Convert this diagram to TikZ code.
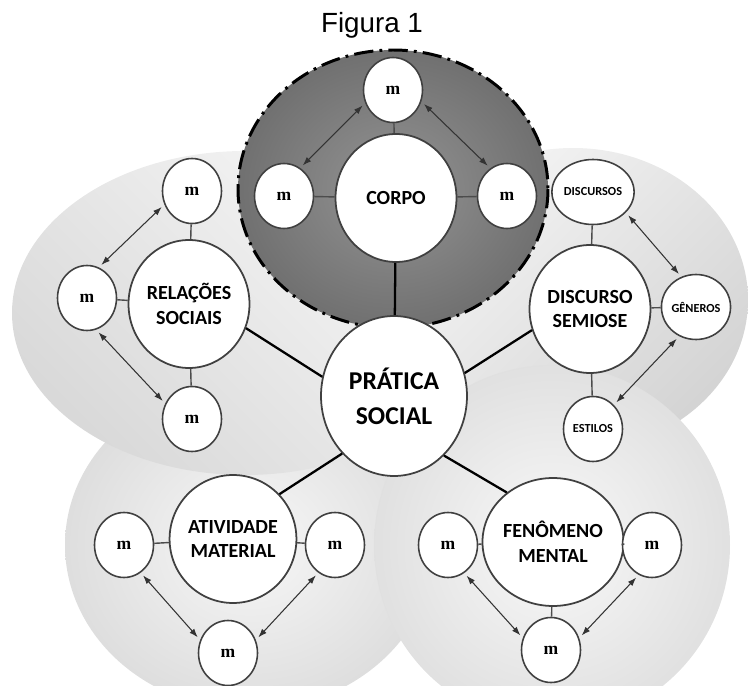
\documentclass[tikz,border=0pt]{standalone}
\usepackage{fontspec}
\usetikzlibrary{shapes.geometric,arrows.meta}
\newfontfamily\titlefont{Liberation Sans}
\newfontfamily\boxfont{Carlito}
\newfontfamily\mfont{Liberation Serif}
\definecolor{corpoin}{gray}{0.58}
\definecolor{corpoout}{gray}{0.44}
\begin{document}
\begin{tikzpicture}[x=0.02cm,y=-0.02cm,
  mainnode/.style={ellipse,draw=black!75,line width=1pt,fill=white,inner sep=0pt,
    minimum width=2.42cm,minimum height=2.56cm,align=center,
    font=\boxfont\bfseries\fontsize{11.4}{14.2}\selectfont},
  mnode/.style={ellipse,draw=black!75,line width=0.9pt,fill=white,inner sep=0pt,
    minimum width=1.18cm,minimum height=1.3cm,
    font=\mfont\bfseries\fontsize{10}{10}\selectfont},
  wordnode/.style={mnode,font=\boxfont\bfseries\fontsize{7}{8}\selectfont},
  link/.style={draw=black!70,line width=0.8pt},
  spoke/.style={draw=black,line width=1.3pt},
  dbl/.style={{Latex[length=5pt,width=3.5pt]}-{Latex[length=5pt,width=3.5pt]},
    draw=black!80,line width=0.6pt,shorten <=2pt,shorten >=2pt}]
\useasboundingbox (0,0) rectangle (748,686);
\clip (0,0) rectangle (748,686);
% grey fields behind the groups
\shade[inner color=gray!6,outer color=gray!26] (250,545) ellipse [x radius=185,y radius=165];
\shade[top color=gray!6,bottom color=gray!30,shading angle=-45] (245,313) ellipse [x radius=233,y radius=162];
\shade[top color=gray!8,bottom color=gray!34,shading angle=45] (573,300) ellipse [x radius=175,y radius=152];
\shade[inner color=gray!5,outer color=gray!24] (552,545) ellipse [x radius=178,y radius=180];
\shade[inner color=corpoin,outer color=corpoout] (393,189) ellipse [x radius=155,y radius=139];
\draw[line width=1.7pt,dash pattern=on 11pt off 3.5pt on 1.6pt off 3.5pt] (393,189) ellipse [x radius=155,y radius=139];

\node[anchor=base] (title) at (372,33) {\titlefont\fontsize{15.8}{18}\selectfont Figura 1};

\node[mainnode,minimum width=2.92cm,minimum height=3.2cm,
  font=\boxfont\bfseries\fontsize{14.6}{19.8}\selectfont] (pratica) at (394,396) {PRÁTICA\\SOCIAL};

\node[mainnode] (corpo) at (396,198) {CORPO};
\node[mnode] (ct) at (393,90) {m};
\node[mnode] (cl) at (284,196) {m};
\node[mnode] (cr) at (507,196) {m};

\node[mainnode] (rel) at (189,304) {RELAÇÕES\\SOCIAIS};
\node[mnode] (rt) at (192,191) {m};
\node[mnode] (rl) at (87,298) {m};
\node[mnode] (rb) at (192,419) {m};

\node[mainnode] (dis) at (590,309) {DISCURSO\\SEMIOSE};
\node[wordnode] (dsc) at (593,192) {DISCURSOS};
\node[wordnode] (dgn) at (696,307) {GÊNEROS};
\node[wordnode] (dst) at (593,429) {ESTILOS};

\node[mainnode] (ativ) at (233,539) {ATIVIDADE\\MATERIAL};
\node[mnode] (al) at (124,545) {m};
\node[mnode] (ar) at (335,545) {m};
\node[mnode] (ab) at (228,653) {m};

\node[mainnode] (fen) at (553,542) {FENÔMENO\\MENTAL};
\node[mnode] (fl) at (448,545) {m};
\node[mnode] (fr) at (652,545) {m};
\node[mnode] (fb) at (551,650) {m};

% spokes from the centre
\draw[spoke] (corpo) -- (pratica);
\draw[spoke] (rel.-23) -- (pratica.165);
\draw[spoke] (dis.200) -- (pratica.18);
\draw[spoke] (ativ.44) -- (pratica.228);
\draw[spoke] (fen.133) -- (pratica.-50);

% short links to the small circles
\draw[link] (ct) -- (corpo) (cl) -- (corpo) (cr) -- (corpo);
\draw[link] (rt) -- (rel) (rl) -- (rel) (rb) -- (rel);
\draw[link] (dsc) -- (dis) (dgn) -- (dis) (dst) -- (dis);
\draw[link] (al) -- (ativ) (ar) -- (ativ);
\draw[link] (fl) -- (fen) (fr) -- (fen) (fb) -- (fen);

% two-headed arrows
\draw[dbl] (ct.205) -- (cl.60);
\draw[dbl] (ct.-22) -- (cr.121);
\draw[dbl] (rt.206) -- (rl.69);
\draw[dbl] (rl.-74) -- (rb.150);
\draw[dbl] (dsc.-32) -- (dgn.116);
\draw[dbl] (dgn.240) -- (dst.49);
\draw[dbl] (al.-59) -- (ab.155);
\draw[dbl] (ar.239) -- (ab.25);
\draw[dbl] (fl.-60) -- (fb.157);
\draw[dbl] (fr.246) -- (fb.23);
\end{tikzpicture}
\end{document}
